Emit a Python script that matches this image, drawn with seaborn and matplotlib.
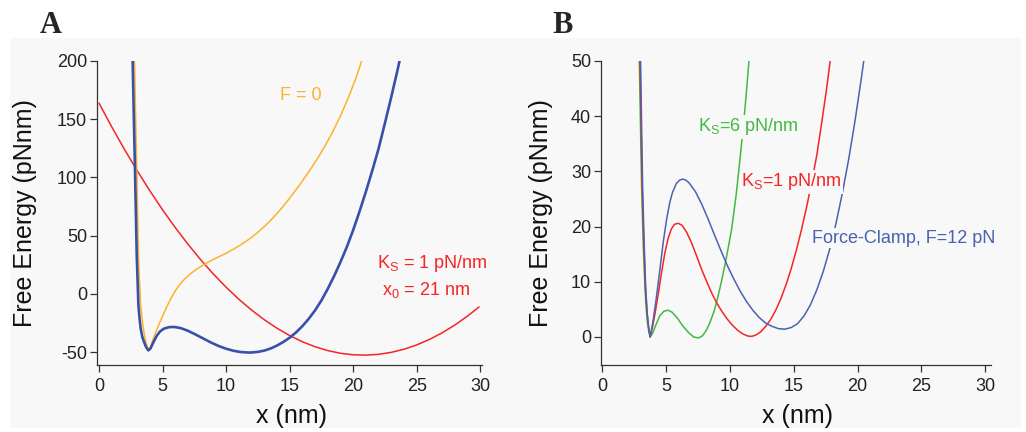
import matplotlib
matplotlib.use("Agg")
import matplotlib.pyplot as plt
import seaborn as sns

# panel A: energy landscape, F = 0 (orange), spring (red), sum (blue)
xA_blue = [2.60, 2.65, 2.74, 2.83, 2.90, 2.97, 3.04, 3.10, 3.19, 3.28, 3.40, 3.54, 3.70, 3.88,
           4.05, 4.28, 4.55, 4.80, 5.10, 5.50, 5.90, 6.40, 7.00, 7.60, 8.20, 8.80, 9.40,
           10.00, 10.60, 11.20, 11.80, 12.00, 12.50, 13.00, 13.50, 14.00, 14.50, 15.00, 15.50,
           16.00, 16.50, 17.00, 17.50, 18.00, 18.50, 19.00, 19.50, 20.00, 20.50, 21.00, 21.50,
           22.00, 22.50, 23.00, 23.50, 23.80]
yA_blue = [225, 199, 152, 108, 70, 33, 10, -9.6, -21, -29.6, -36.5, -41.1, -45.5, -48.4,
           -46.8, -41.5, -35.8, -32.2, -29.8, -28.5, -28.3, -29.2, -31.6, -34.8, -38.2, -41.6,
           -44.6, -47.0, -48.8, -49.9, -50.3, -50.2, -49.7, -48.6, -46.8, -44.3, -41.2, -37.5,
           -33.0, -27.6, -21.3, -14.0, -5.5, 4.5, 15.5, 27.5, 40.5, 55.0, 71.0, 88.0, 106.0,
           125.0, 147.0, 169.5, 193.0, 208.0]

xA_f0 = [2.74, 2.80, 2.88, 2.97, 3.04, 3.10, 3.19, 3.28, 3.45, 3.62, 3.80, 3.96, 4.15, 4.40,
         4.70, 5.00, 5.33, 5.70, 6.05, 6.40, 6.80, 7.25, 7.75, 8.25, 8.80, 9.40, 10.00, 10.60,
         11.20, 11.80, 12.40, 13.00, 13.60, 14.20, 14.80, 15.40, 16.00, 16.60, 17.20, 17.80,
         18.40, 19.00, 19.60, 20.20, 20.65, 20.85]
yA_f0 = [225, 199, 152, 108, 70, 33, 10, -9.6, -27, -38, -45.5, -48.3, -42.0, -34.5,
         -26.5, -19.0, -11.0, -3.0, 3.5, 8.8, 13.5, 17.8, 21.8, 25.2, 28.6, 31.8, 35.0, 38.6,
         42.6, 47.0, 52.0, 57.8, 64.3, 71.5, 79.5, 88.0, 97.0, 106.5, 116.5, 127.5,
         139.5, 153.0, 168.0, 185.0, 199.5, 207.0]

xA_spring = [0, 1, 2, 3, 4, 5, 6, 7, 8, 9, 10, 11, 12, 13, 14, 15, 16, 17, 18, 19, 20,
             21, 22, 23, 24, 25, 26, 27, 28, 29, 29.9]
yA_spring = [163.8, 143.5, 124.2, 105.9, 88.6, 72.3, 57.0, 42.7, 29.4, 17.1, 5.8, -4.5,
             -13.8, -22.1, -29.4, -35.7, -41.0, -45.3, -48.6, -50.9, -52.2, -52.5, -51.8,
             -50.1, -47.4, -43.7, -39.0, -33.3, -26.6, -18.9, -11.1]

# panel B: Ks = 6 (green), Ks = 1 (red), force clamp F = 12 pN (blue)
xB_ks6 = [2.82, 2.90, 3.00, 3.08, 3.20, 3.34, 3.45, 3.53, 3.65, 3.75, 3.95, 4.20, 4.50, 4.80,
          5.12, 5.45, 5.85, 6.30, 6.75, 7.15, 7.52, 7.85, 8.15, 8.43, 8.75, 9.00, 9.35, 9.69,
          10.13, 10.50, 10.91, 11.20, 11.49, 11.60]
yB_ks6 = [56, 50, 37, 27, 17, 8.8, 4.8, 2.7, 0.8, 0, 0.7, 2.2, 3.8, 4.6,
          4.85, 4.5, 3.5, 2.0, 0.8, 0.0, -0.2, 0.2, 1.2, 2.6, 4.6, 6.7, 10.2, 14.0,
          19.5, 26, 35, 42, 50, 53]

xB_ks1 = [2.88, 2.95, 3.04, 3.12, 3.25, 3.38, 3.50, 3.62, 3.75, 3.95, 4.15, 4.40, 4.65, 4.90,
          5.15, 5.40, 5.65, 5.95, 6.25, 6.60, 7.00, 7.40, 7.80, 8.20, 8.60, 9.00, 9.40, 9.80,
          10.20, 10.60, 11.00, 11.40, 11.70, 12.00, 12.40, 12.80, 13.20, 13.60, 14.00, 14.40,
          14.80, 15.20, 15.60, 16.00, 16.40, 16.80, 17.20, 17.60, 17.85, 18.00]
yB_ks1 = [56, 50, 38, 27, 17, 8.8, 4.5, 1.8, 0, 2.0, 4.5, 8.0, 11.8, 15.2,
          17.8, 19.5, 20.4, 20.6, 20.2, 19.0, 17.0, 14.6, 12.1, 9.9, 7.8, 6.0, 4.5, 3.2,
          2.1, 1.2, 0.55, 0.15, 0.1, 0.3, 0.9, 1.9, 3.2, 4.9, 7.0, 9.5,
          12.4, 15.7, 19.4, 23.5, 28.0, 32.9, 39.0, 45.5, 50.0, 53.0]

xB_clamp = [2.93, 3.00, 3.08, 3.16, 3.28, 3.40, 3.52, 3.64, 3.75, 3.95, 4.20, 4.49, 4.78, 5.05,
            5.30, 5.50, 5.80, 6.05, 6.29, 6.55, 6.80, 7.30, 7.80, 8.30, 8.80, 9.30, 9.80,
            10.30, 10.80, 11.30, 11.80, 12.30, 12.80, 13.30, 13.80, 14.30, 14.80, 15.30, 15.80,
            16.30, 16.80, 17.30, 17.80, 18.30, 18.80, 19.30, 19.80, 20.30, 20.60]
yB_clamp = [56, 50, 38, 27, 17, 8.8, 4.2, 1.6, 0, 2.5, 6.5, 11.8, 17.3, 21.5,
            24.5, 26.2, 27.8, 28.4, 28.6, 28.4, 27.9, 26.3, 24.0, 21.3, 18.4, 15.6, 12.9,
            10.5, 8.3, 6.4, 4.8, 3.5, 2.5, 1.9, 1.5, 1.4, 1.7, 2.4, 3.8,
            5.8, 8.5, 11.8, 15.8, 20.5, 26.0, 32.2, 39.2, 47.0, 52.0]

bg = "#f8f8f8"
blue_a = "#3a50a8"
blue_b = "#4a62b0"
red = "#f52525"
orange = "#fdb22a"
green = "#42b942"

sns.set_style("ticks", {"axes.facecolor": bg})
plt.rcParams["font.family"] = ["Liberation Sans", "DejaVu Sans"]
plt.rcParams["axes.unicode_minus"] = False

fig = plt.figure(figsize=(10.26, 4.32), dpi=100)
fig.patch.set_facecolor("white")
fig.add_artist(plt.Rectangle((0.0097, 0.009), 0.985, 0.903, transform=fig.transFigure,
                             facecolor=bg, edgecolor="none", zorder=-10))

axA = fig.add_axes([0.0945, 0.155, 0.3753, 0.7038])
axB = fig.add_axes([0.5858, 0.155, 0.3801, 0.7038])

sns.lineplot(x=xA_spring, y=yA_spring, ax=axA, color=red, linewidth=1.1, sort=False, estimator=None)
sns.lineplot(x=xA_f0, y=yA_f0, ax=axA, color=orange, linewidth=1.1, sort=False, estimator=None)
sns.lineplot(x=xA_blue, y=yA_blue, ax=axA, color=blue_a, linewidth=1.9, sort=False, estimator=None)

sns.lineplot(x=xB_ks6, y=yB_ks6, ax=axB, color=green, linewidth=1.1, sort=False, estimator=None)
sns.lineplot(x=xB_ks1, y=yB_ks1, ax=axB, color=red, linewidth=1.1, sort=False, estimator=None)
sns.lineplot(x=xB_clamp, y=yB_clamp, ax=axB, color=blue_b, linewidth=1.1, sort=False, estimator=None)

axA.set_xlim(-0.16, 30.13)
axA.set_ylim(-61, 200)
axA.set_yticks([-50, 0, 50, 100, 150, 200])
axB.set_xlim(-0.1, 30.45)
axB.set_ylim(-5.1, 50)
axB.set_yticks([0, 10, 20, 30, 40, 50])

for ax, ylx in [(axA, -0.155), (axB, -0.124)]:
    ax.set_xticks([0, 5, 10, 15, 20, 25, 30])
    ax.set_facecolor(bg)
    sns.despine(ax=ax)
    for s in ["left", "bottom"]:
        ax.spines[s].set_color("#333333")
        ax.spines[s].set_linewidth(0.9)
    ax.tick_params(axis="both", direction="out", length=4.8, width=0.9, color="#333333",
                   labelsize=13, labelcolor="#222222")
    ax.tick_params(axis="y", pad=2.4)
    ax.tick_params(axis="x", pad=4.5)
    ax.set_xlabel("x (nm)", fontsize=18, color="#111111")
    ax.set_ylabel("Free Energy (pNnm)", fontsize=18, color="#111111")
    ax.yaxis.set_label_coords(ylx, 0.5)
    ax.xaxis.set_label_coords(0.504, -0.128)

box = dict(facecolor=bg, edgecolor="none", pad=1.0)
axA.text(14.25, 170.8, "F = 0", color=orange, fontsize=13, ha="left", va="center")
axA.text(21.9, 26.5, r"K$_\mathregular{S}$ = 1 pN/nm", color=red, fontsize=13, ha="left", va="center")
axA.text(22.3, 3.3, r"x$_\mathregular{0}$ = 21 nm", color=red, fontsize=13, ha="left", va="center")

axB.text(7.5, 38.1, r"K$_\mathregular{S}$=6 pN/nm", color=green, fontsize=13, ha="left",
         va="center", bbox=box)
axB.text(10.9, 28.1, r"K$_\mathregular{S}$=1 pN/nm", color=red, fontsize=13, ha="left",
         va="center", bbox=box)
axB.text(16.4, 17.9, "Force-Clamp, F=12 pN", color=blue_b, fontsize=13, ha="left",
         va="center", bbox=box)

fig.text(0.039, 0.9236, "A", fontsize=22, fontweight="bold", family="Liberation Serif",
         va="baseline", ha="left")
fig.text(0.538, 0.9236, "B", fontsize=22, fontweight="bold", family="Liberation Serif",
         va="baseline", ha="left")

fig.savefig("out.png", dpi=100, facecolor="white")
